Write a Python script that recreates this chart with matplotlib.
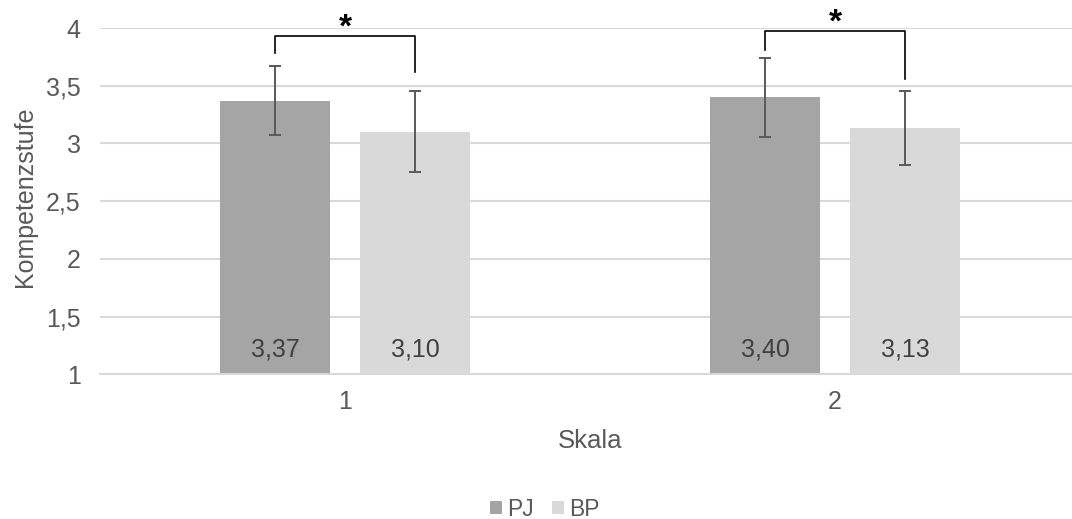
import numpy as np
import matplotlib
matplotlib.use("Agg")
import matplotlib.pyplot as plt
from matplotlib.ticker import FuncFormatter

plt.rcParams['font.family'] = ['Liberation Sans', 'DejaVu Sans']

# Daten
skalen = ['1', '2']
pj = [3.37, 3.40]
bp = [3.10, 3.13]
pj_err = [0.30, 0.34]
bp_err = [0.35, 0.32]
serien = ['PJ', 'BP']

# Signifikanz-Klammern: (Höhe, Ende links, Ende rechts)
klammer_oben = [3.93, 3.97]
klammer_links = [3.78, 3.81]
klammer_rechts = [3.62, 3.56]

col_pj = '#a5a5a5'
col_bp = '#d9d9d9'
txt = '#595959'
grid = '#d9d9d9'

fig = plt.figure(figsize=(10.72, 5.19), dpi=100)
ax = fig.add_axes([100/1072, 1 - 374.3/519, 980/1072, 346.3/519])

x = np.arange(1, len(skalen) + 1)
w = 110/490
off = 70/490

ax.bar(x - off, pj, w, bottom=0, color=col_pj, label=serien[0], zorder=2)
ax.bar(x + off, bp, w, bottom=0, color=col_bp, label=serien[1], zorder=2)
ax.errorbar(x - off, pj, yerr=pj_err, fmt='none', ecolor='#595959',
            elinewidth=1.4, capsize=4.3, capthick=1.4, zorder=3)
ax.errorbar(x + off, bp, yerr=bp_err, fmt='none', ecolor='#595959',
            elinewidth=1.4, capsize=4.3, capthick=1.4, zorder=3)

for xi, v in zip(x - off, pj):
    ax.annotate(f'{v:.2f}'.replace('.', ','), (xi, 1), xytext=(0, 17.5),
                textcoords='offset points', ha='center', va='center',
                fontsize=18, color='#404040')
for xi, v in zip(x + off, bp):
    ax.annotate(f'{v:.2f}'.replace('.', ','), (xi, 1), xytext=(0, 17.5),
                textcoords='offset points', ha='center', va='center',
                fontsize=18, color='#404040')

# Klammern + Sterne
for i in range(len(skalen)):
    xl, xr = x[i] - off, x[i] + off
    ax.plot([xl, xl, xr, xr],
            [klammer_links[i], klammer_oben[i], klammer_oben[i], klammer_rechts[i]],
            color='black', lw=1.2, clip_on=False, zorder=4)
    ax.text(x[i], klammer_oben[i] + 0.07, '*', ha='center', va='center',
            fontsize=24, fontweight='bold', color='black', clip_on=False)

ax.set_xlim(0.5, 2.5)
ax.set_ylim(1, 4)
ax.set_yticks(np.arange(1, 4.01, 0.5))
ax.yaxis.set_major_formatter(FuncFormatter(lambda v, p: f'{v:g}'.replace('.', ',')))
ax.set_xticks(x)
ax.set_xticklabels(skalen)
ax.tick_params(axis='y', length=0, pad=14, labelsize=18, labelcolor=txt)
ax.tick_params(axis='x', length=0, pad=11, labelsize=18, labelcolor=txt)
ax.grid(axis='y', color=grid, lw=1.5, zorder=0)
ax.set_axisbelow(True)
for s in ['top', 'right', 'left']:
    ax.spines[s].set_visible(False)
ax.spines['bottom'].set_color(grid)
ax.spines['bottom'].set_linewidth(1.5)

fig.text(25/1072, 1 - 197/519, 'Kompetenzstufe', rotation=90, ha='center',
         va='center', fontsize=18, color=txt)
fig.text(590/1072, 1 - 441/519, 'Skala', ha='center', va='center',
         fontsize=18.5, color=txt)

fig.legend(loc='center', bbox_to_anchor=(545/1072, 1 - 509/519), ncol=2,
           frameon=False, fontsize=16.5, labelcolor=txt, handlelength=0.5,
           handleheight=0.5, handletextpad=0.25, columnspacing=0.8)

fig.savefig('out.png', dpi=100)
